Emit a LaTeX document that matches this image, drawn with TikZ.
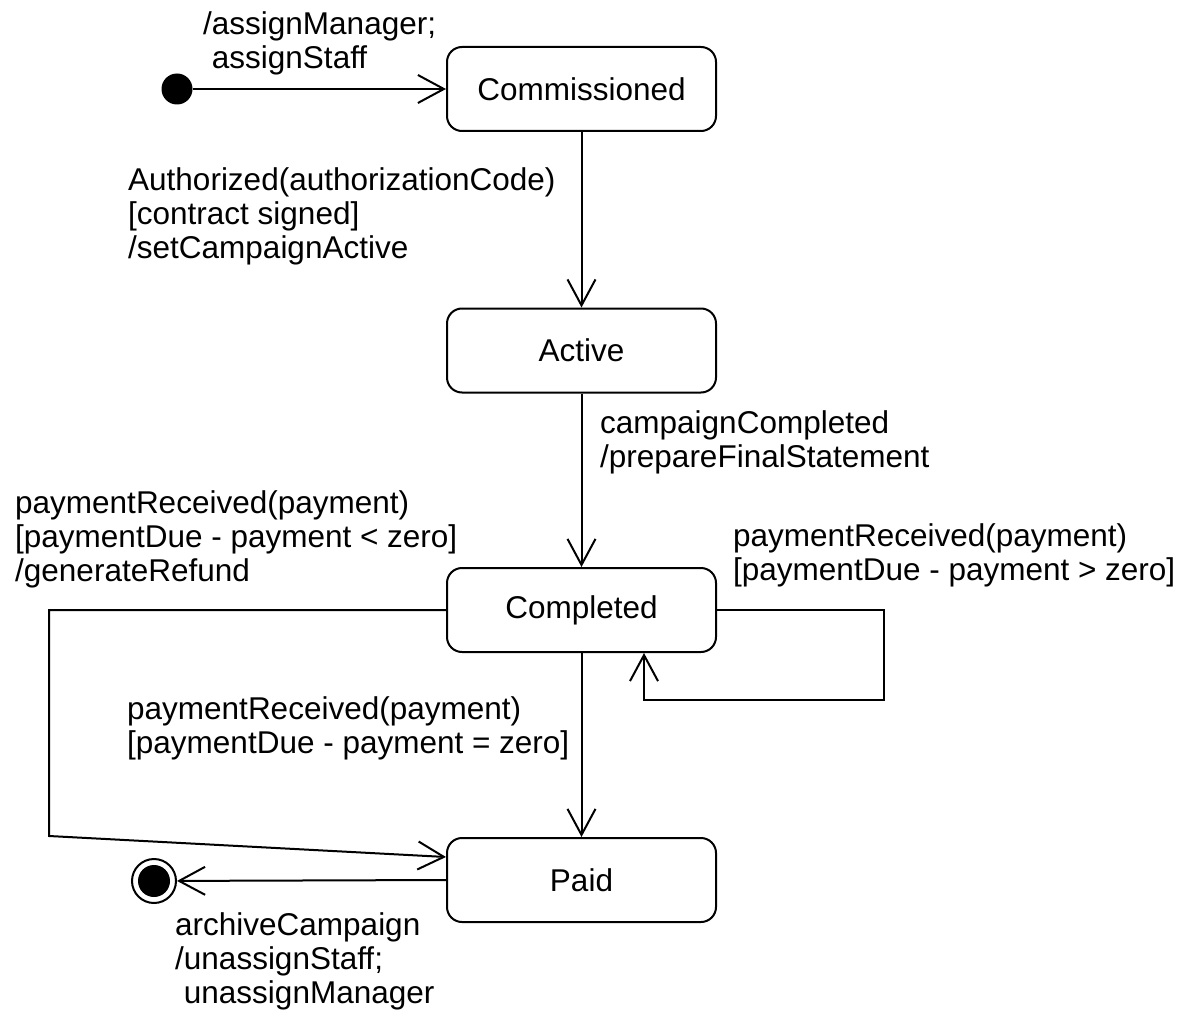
\documentclass[tikz,border=0pt]{standalone}
\usepackage{fontspec}
\setmainfont{Liberation Sans}
\usetikzlibrary{arrows.meta}
\begin{document}
\begin{tikzpicture}[x=1pt,y=-1pt,
  state/.style={draw, line width=2pt, rounded corners=15pt, minimum width=269pt, minimum height=84pt, inner sep=0pt, font=\fontsize{31.5}{34}\selectfont},
  lbl/.style={anchor=base west, inner sep=0pt, font=\fontsize{31.5}{34}\selectfont},
  conn/.style={line width=2pt, -{Straight Barb[length=26pt,width=28pt]}},
]
\useasboundingbox (0,0) rectangle (1191,1019);

% states
\node[state] (comm) at (581.5,89) {Commissioned};
\node[state] (act) at (581.5,350.5) {Active};
\node[state] (compl) at (581.5,610) {Completed};
\node[state] (paid) at (581.5,880) {Paid};

% pseudo states
\node[circle, fill=black, minimum size=31pt, inner sep=0pt] (init) at (177,89) {};
\node[circle, draw, line width=2pt, minimum size=44pt, inner sep=0pt] (fin) at (154,881) {};
\fill (fin.center) circle (16pt);

% helper coordinates
\coordinate (lc1) at (49,610);
\coordinate (lc2) at (49,836);
\coordinate (lp1) at (884,610);
\coordinate (lp2) at (884,700);
\coordinate (lp3) at (644,700);

% connectors
\draw[conn] (init) -- (comm);
\draw[conn] (comm) -- (act);
\draw[conn] (act) -- (compl);
\draw[conn] (compl) -- (paid);
\draw[conn] (compl.west) -- (lc1) -- (lc2) -- ([yshift=23pt]paid.west);
\draw[conn] (compl.east) -- (lp1) -- (lp2) -- (lp3) -- (lp3 |- compl.south);
\draw[conn] (paid.west) -- (fin);

% labels
\node[lbl] (t1) at (203,35) {\begin{tabular}[t]{@{}l@{}}/assignManager;\\~assignStaff\end{tabular}};
\node[lbl] (t2) at (128,191) {\begin{tabular}[t]{@{}l@{}}Authorized(authorizationCode)\\{}[contract signed]\\/setCampaignActive\end{tabular}};
\node[lbl] (t3) at (600,433) {\begin{tabular}[t]{@{}l@{}}campaignCompleted\\/prepareFinalStatement\end{tabular}};
\node[lbl] (t4) at (15,513) {\begin{tabular}[t]{@{}l@{}}paymentReceived(payment)\\{}[paymentDue - payment < zero]\\/generateRefund\end{tabular}};
\node[lbl] (t5) at (733,546) {\begin{tabular}[t]{@{}l@{}}paymentReceived(payment)\\{}[paymentDue - payment > zero]\end{tabular}};
\node[lbl] (t6) at (127,719) {\begin{tabular}[t]{@{}l@{}}paymentReceived(payment)\\{}[paymentDue - payment = zero]\end{tabular}};
\node[lbl] (t7) at (175,935) {\begin{tabular}[t]{@{}l@{}}archiveCampaign\\/unassignStaff;\\~unassignManager\end{tabular}};
\end{tikzpicture}
\end{document}
